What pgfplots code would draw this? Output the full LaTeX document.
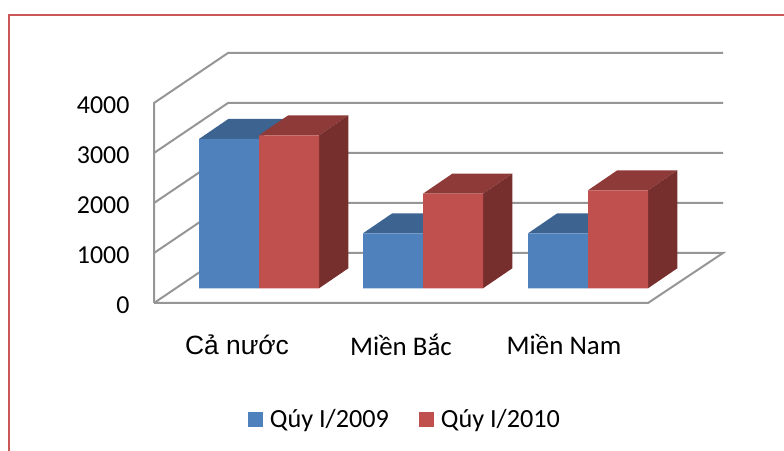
\documentclass[border=0pt]{standalone}
\usepackage{pgfplots}
\pgfplotsset{compat=1.18}
\usepackage{fontspec}
\setmainfont{Carlito}
\newfontfamily\arialf{Liberation Sans}
\definecolor{bluef}{HTML}{4F81BD}
\definecolor{bluet}{HTML}{3D6390}
\definecolor{redf}{HTML}{C0504D}
\definecolor{redt}{HTML}{8E3A38}
\definecolor{reds}{HTML}{772F2D}
\definecolor{gridc}{HTML}{969696}
\definecolor{framec}{HTML}{C95856}
\begin{document}
\begin{tikzpicture}
\path[use as bounding box] (0,0) rectangle (784bp,451bp);
\draw[framec,line width=2.8bp] (9bp,0) -- (9bp,436bp) -- (784bp,436bp);
% walls and floor
\begin{axis}[
  anchor=south west, at={(154bp,148bp)},
  x=1bp, y=0.05bp,
  xmin=154, xmax=648, ymin=0, ymax=4000,
  clip=false,
  axis line style={draw=none},
  major tick length=0pt,
  ytick={0,1000,2000,3000,4000},
  xtick={237,401,564},
  xticklabels={{\arialf\fontsize{26.5}{30}\selectfont Cả nước},{\fontsize{27}{30}\selectfont Miền Bắc},{\fontsize{27}{30}\selectfont Miền Nam}},
  typeset ticklabels with strut,
  /pgf/number format/assume math mode=true,
  /pgf/number format/1000 sep={},
  yticklabel style={font=\fontsize{26}{30}\selectfont,xshift=-21bp,yshift=-4.5bp},
  xticklabel style={yshift=-28bp},
]
\addplot[gridc,line width=2bp] coordinates {(154,0)(154,4000)(228,5000)(723,5000)};
\addplot[gridc,line width=2bp] coordinates {(154,3000)(228,4000)(723,4000)};
\addplot[gridc,line width=2bp] coordinates {(154,2000)(228,3000)(723,3000)};
\addplot[gridc,line width=2bp] coordinates {(154,1000)(228,2000)(723,2000)};
\addplot[gridc,line width=2bp] coordinates {(154,0)(228,1000)(723,1000)(648,0)(154,0)};
\end{axis}
% bars
\begin{axis}[
  anchor=south west, at={(154bp,162.7bp)},
  x=1bp, y=0.05bp,
  xmin=154, xmax=648, ymin=0, ymax=4000,
  clip=false,
  hide axis,
  legend columns=2,
  legend style={at={(0.508,-0.6535)},anchor=center,draw=none,fill=none,
    font=\fontsize{26.3}{30}\selectfont,
    /tikz/every even column/.append style={column sep=28bp},
    /tikz/every odd column/.append style={column sep=5bp},
    inner sep=0pt},
  legend image code/.code={\fill[#1,draw=none] (0bp,-7.5bp) rectangle (15bp,7.5bp);},
]
% blue tops
\addplot[fill=bluet,draw=none,forget plot] coordinates {(199,2986)(259,2986)(288.3,3386)(228.3,3386)} -- cycle;
\addplot[fill=bluet,draw=none,forget plot] coordinates {(363,1100)(423,1100)(452.3,1500)(392.3,1500)} -- cycle;
\addplot[fill=bluet,draw=none,forget plot] coordinates {(528,1100)(588,1100)(617.3,1500)(557.3,1500)} -- cycle;
% blue fronts
\addplot[ybar,bar width=60bp,bar shift=0pt,fill=bluef,draw=none] coordinates {(229,2986)(393,1100)(558,1100)};
\addlegendentry{Qúy I/2009}
% red tops
\addplot[fill=redt,draw=none,forget plot] coordinates {(259,3060)(319,3060)(348.3,3460)(288.3,3460)} -- cycle;
\addplot[fill=redt,draw=none,forget plot] coordinates {(423,1892)(483,1892)(512.3,2292)(452.3,2292)} -- cycle;
\addplot[fill=redt,draw=none,forget plot] coordinates {(588,1960)(648,1960)(677.3,2360)(617.3,2360)} -- cycle;
% red sides
\addplot[fill=reds,draw=none,forget plot] coordinates {(319,0)(348.3,400)(348.3,3460)(319,3060)} -- cycle;
\addplot[fill=reds,draw=none,forget plot] coordinates {(483,0)(512.3,400)(512.3,2292)(483,1892)} -- cycle;
\addplot[fill=reds,draw=none,forget plot] coordinates {(648,0)(677.3,400)(677.3,2360)(648,1960)} -- cycle;
% red fronts
\addplot[ybar,bar width=60bp,bar shift=0pt,fill=redf,draw=none] coordinates {(289,3060)(453,1892)(618,1960)};
\addlegendentry{Qúy I/2010}
\end{axis}
\end{tikzpicture}
\end{document}
